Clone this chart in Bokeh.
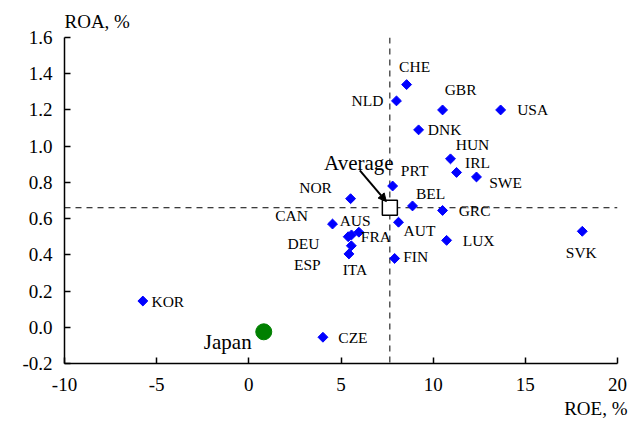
from bokeh.plotting import figure
from bokeh.models import (ColumnDataSource, LabelSet, Label, Span, Range1d, Title,
                          FixedTicker, PrintfTickFormatter, Arrow, NormalHead)
from bokeh.embed import file_html
from bokeh.resources import INLINE

# ---- data ----
countries = ["CHE", "NLD", "GBR", "USA", "DNK", "HUN", "IRL", "SWE", "PRT", "NOR",
             "BEL", "GRC", "CAN", "AUS", "DEU", "FRA", "ESP", "ITA", "AUT", "LUX",
             "FIN", "SVK", "KOR", "CZE"]
roe = [8.56, 8.01, 10.51, 13.66, 9.21, 10.94, 11.27, 12.35, 7.80, 5.52,
       8.88, 10.51, 4.54, 5.39, 5.57, 5.97, 5.56, 5.43, 8.12, 10.73,
       7.91, 18.09, -5.75, 4.02]
roa = [1.34, 1.25, 1.20, 1.20, 1.09, 0.93, 0.855, 0.83, 0.78, 0.71,
       0.67, 0.645, 0.57, 0.50, 0.51, 0.525, 0.45, 0.405, 0.58, 0.48,
       0.38, 0.53, 0.145, -0.055]
japan_roe = [0.81]
japan_roa = [-0.025]
avg_roe = 7.65
avg_roa = 0.66
x_ticks = [-10, -5, 0, 5, 10, 15, 20]
y_ticks = [-0.2, 0.0, 0.2, 0.4, 0.6, 0.8, 1.0, 1.2, 1.4, 1.6]

# ---- label placement (screen px offsets) ----
label_dx = [8, -29, 18, 32, 26, 22, 21, 29, 22, -35,
            18, 32, -41, 7, -48, 17, -44, 6, 21, 32,
            21, -1, 25, 30]
label_dy = [18, 0, 20, 0, 0, 14, 10, -6, 16, 11,
            12, 0, 9, 16, -9, -4, -19, -16, -8, 0,
            2, -21, 0, 0]

SERIF = "Liberation Serif"

p = figure(width=628, height=420, output_backend="svg", toolbar_location=None,
           x_range=Range1d(-10, 20), y_range=Range1d(-0.2, 1.6),
           min_border_left=64, min_border_right=11, min_border_top=37,
           min_border_bottom=57)
p.outline_line_color = None
p.xgrid.visible = False
p.ygrid.visible = False

for ax in (p.xaxis[0], p.yaxis[0]):
    ax.axis_line_color = "black"
    ax.axis_line_width = 1.5
    ax.major_tick_line_color = "black"
    ax.major_tick_line_width = 1.5
    ax.major_tick_in = 6
    ax.major_tick_out = 0
    ax.minor_tick_line_color = None
    ax.major_label_text_font = SERIF
    ax.major_label_text_font_size = "19px"
    ax.major_label_text_color = "black"

p.xaxis[0].ticker = FixedTicker(ticks=x_ticks)
p.xaxis[0].formatter = PrintfTickFormatter(format="%d")
p.xaxis[0].major_label_standoff = 14
p.yaxis[0].ticker = FixedTicker(ticks=y_ticks)
p.yaxis[0].formatter = PrintfTickFormatter(format="%.1f")
p.yaxis[0].major_label_standoff = 12

# axis titles as side titles
p.add_layout(Title(text="ROA, %", align="left", text_font=SERIF,
                   text_font_size="19px", text_font_style="normal",
                   text_color="black", standoff=12), "above")
p.add_layout(Title(text="ROE, %", align="right", text_font=SERIF,
                   text_font_size="19px", text_font_style="normal",
                   text_color="black", standoff=4, offset=-10), "below")

# average dashed lines
p.add_layout(Span(location=avg_roe, dimension="height", line_color="black",
                  line_width=1, line_dash="6 5", level="underlay"))
p.add_layout(Span(location=avg_roa, dimension="width", line_color="black",
                  line_width=1, line_dash="6 5", level="underlay"))

src = ColumnDataSource(dict(x=roe, y=roa, t=countries, dx=label_dx, dy=label_dy))
p.scatter("x", "y", source=src, marker="square", size=7, angle=0.785398,
          fill_color="#0000FF", line_color="#0000FF")
p.add_layout(LabelSet(x="x", y="y", text="t", x_offset="dx", y_offset="dy",
                      source=src, text_font=SERIF, text_font_size="15.5px",
                      text_align="center", text_baseline="middle",
                      text_color="black"))

# Japan
p.scatter(japan_roe, japan_roa, marker="circle", size=16,
          fill_color="#008000", line_color="#008000")
p.add_layout(Label(x=japan_roe[0], y=japan_roa[0], text="Japan", x_offset=-36,
                   y_offset=-10, text_font=SERIF, text_font_size="21px",
                   text_color="black",
                   text_align="center", text_baseline="alphabetic"))

# Average
p.add_layout(Arrow(end=NormalHead(size=8, fill_color="black", line_color="black"),
                   x_start=6.02, y_start=0.866, x_end=7.46, y_end=0.694,
                   line_color="black", line_width=2))
p.scatter([avg_roe], [avg_roa], marker="square", size=15,
          fill_color="white", line_color="black", line_width=1.5)
p.add_layout(Label(x=avg_roe, y=avg_roa, text="Average", x_offset=-31,
                   y_offset=45, text_font=SERIF, text_font_size="21px",
                   text_color="black",
                   text_align="center", text_baseline="alphabetic"))

open("out.html", "w").write(file_html(p, INLINE))
